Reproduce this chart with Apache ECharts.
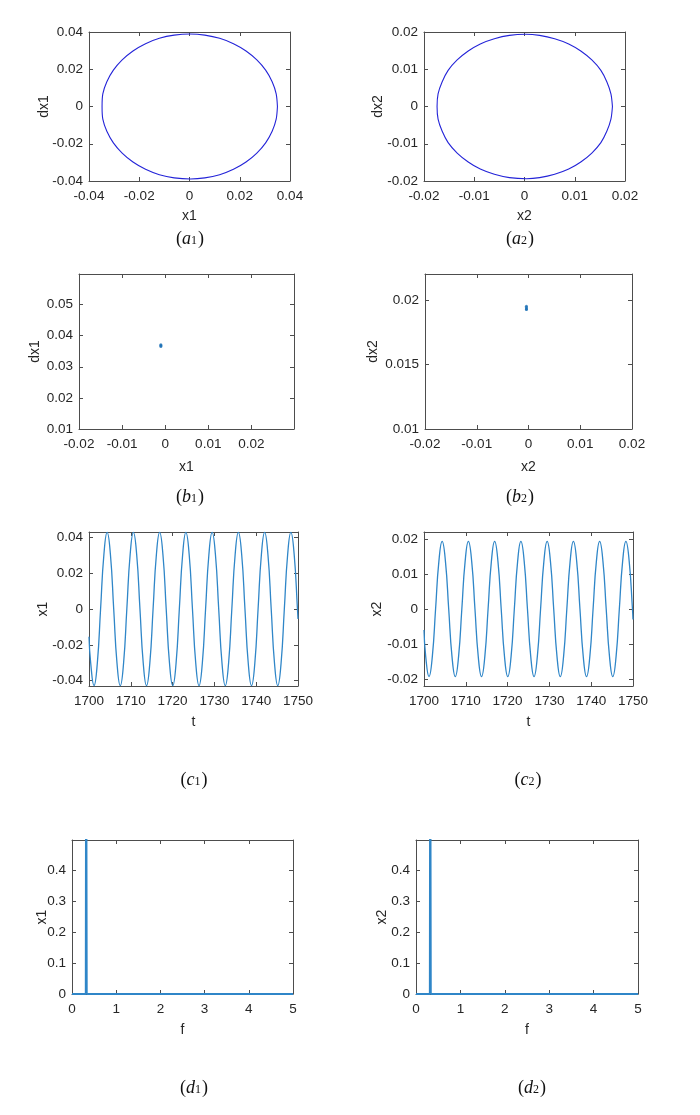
<!DOCTYPE html>
<html>
<head>
<meta charset="utf-8">
<script src="https://cdn.jsdelivr.net/npm/echarts@6/dist/echarts.min.js"></script>
<style>
  html, body { margin: 0; padding: 0; background: #fff; }
  #chart { width: 700px; height: 1115px; }
</style>
</head>
<body>
<div id="chart"></div>
<script>
// (a) phase portraits
const phaseX1 = [0.035, 0.0345, 0.0329, 0.0303, 0.0268, 0.0225, 0.0175, 0.012, 0.0061, 0.0002,
  -0.0061, -0.012, -0.0175, -0.0225, -0.0268, -0.0303, -0.0329, -0.0345, -0.0348,
  -0.0345, -0.0329, -0.0303, -0.0268, -0.0225, -0.0175, -0.012, -0.0061, 0.0004,
  0.0061, 0.012, 0.0175, 0.0225, 0.0268, 0.0303, 0.0329, 0.0345, 0.035]
const phaseDX1 = [0, 0.0068, 0.0133, 0.0195, 0.025, 0.0298, 0.0337, 0.0366, 0.0383, 0.0389,
  0.0383, 0.0366, 0.0337, 0.0298, 0.025, 0.0195, 0.0133, 0.0068, 0,
  -0.0068, -0.0133, -0.0195, -0.025, -0.0298, -0.0337, -0.0366, -0.0383, -0.0389,
  -0.0383, -0.0366, -0.0337, -0.0298, -0.025, -0.0195, -0.0133, -0.0068, 0]
const phaseX2 = [0.0175, 0.0172, 0.0164, 0.0152, 0.0134, 0.0112, 0.0088, 0.006, 0.003, 0.0002,
  -0.003, -0.006, -0.0088, -0.0112, -0.0134, -0.0152, -0.0164, -0.0172, -0.0174,
  -0.0172, -0.0164, -0.0152, -0.0134, -0.0112, -0.0088, -0.006, -0.003, 0.0004,
  0.003, 0.006, 0.0088, 0.0112, 0.0134, 0.0152, 0.0164, 0.0172, 0.0175]
const phaseDX2 = [0, 0.0034, 0.0066, 0.0097, 0.0125, 0.0149, 0.0168, 0.0182, 0.0191, 0.0194,
  0.0191, 0.0182, 0.0168, 0.0149, 0.0125, 0.0097, 0.0066, 0.0034, 0,
  -0.0034, -0.0066, -0.0097, -0.0125, -0.0149, -0.0168, -0.0182, -0.0191, -0.0194,
  -0.0191, -0.0182, -0.0168, -0.0149, -0.0125, -0.0097, -0.0066, -0.0034, 0]

// (b) Poincare points
const poincareX1 = [-0.001, -0.001, -0.001]
const poincareDX1 = [0.0365, 0.0368, 0.0371]
const poincareX2 = [-0.0004, -0.0004, -0.0004, -0.0004]
const poincareDX2 = [0.01925, 0.0193, 0.0194, 0.0195]

// (c) time histories
const timeT = [1700, 1700.41, 1701.2, 1701.99, 1702.77, 1703.56, 1704.34, 1705.13, 1705.91, 1706.7,
  1707.48, 1708.27, 1709.05, 1709.84, 1710.62, 1711.41, 1712.19, 1712.98, 1713.76, 1714.55,
  1715.33, 1716.12, 1716.9, 1717.69, 1718.47, 1719.26, 1720.04, 1720.83, 1721.61, 1722.4,
  1723.18, 1723.97, 1724.75, 1725.54, 1726.32, 1727.11, 1727.89, 1728.68, 1729.46, 1730.25,
  1731.03, 1731.82, 1732.6, 1733.39, 1734.17, 1734.96, 1735.74, 1736.53, 1737.31, 1738.1,
  1738.88, 1739.67, 1740.45, 1741.24, 1742.02, 1742.81, 1743.59, 1744.38, 1745.16, 1745.95,
  1746.73, 1747.52, 1748.3, 1749.09, 1749.87, 1750]
const timeX1 = [-0.0155, -0.0303, -0.0428, -0.0303, 0, 0.0303, 0.0428, 0.0303, 0, -0.0303,
  -0.0428, -0.0303, 0, 0.0303, 0.0428, 0.0303, 0, -0.0303, -0.0428, -0.0303,
  0, 0.0303, 0.0428, 0.0303, 0, -0.0303, -0.0428, -0.0303, 0, 0.0303,
  0.0428, 0.0303, 0, -0.0303, -0.0428, -0.0303, 0, 0.0303, 0.0428, 0.0303,
  0, -0.0303, -0.0428, -0.0303, 0, 0.0303, 0.0428, 0.0303, 0, -0.0303,
  -0.0428, -0.0303, 0, 0.0303, 0.0428, 0.0303, 0, -0.0303, -0.0428, -0.0303,
  0, 0.0303, 0.0428, 0.0303, 0, -0.0055]
const timeX2 = [-0.006, -0.0136, -0.0193, -0.0136, 0, 0.0136, 0.0193, 0.0136, 0, -0.0136,
  -0.0193, -0.0136, 0, 0.0136, 0.0193, 0.0136, 0, -0.0136, -0.0193, -0.0136,
  0, 0.0136, 0.0193, 0.0136, 0, -0.0136, -0.0193, -0.0136, 0, 0.0136,
  0.0193, 0.0136, 0, -0.0136, -0.0193, -0.0136, 0, 0.0136, 0.0193, 0.0136,
  0, -0.0136, -0.0193, -0.0136, 0, 0.0136, 0.0193, 0.0136, 0, -0.0136,
  -0.0193, -0.0136, 0, 0.0136, 0.0193, 0.0136, 0, -0.0136, -0.0193, -0.0136,
  0, 0.0136, 0.0193, 0.0136, 0, -0.003]

// (d) spectra (peak runs off the top of the axes)
const freqF = [0, 0.31, 0.32, 0.335, 5]
const specX1 = [0, 0, 1.2, 0, 0]
const specX2 = [0, 0, 1.2, 0, 0]

// tick labels
const a1Ticks = [-0.04, -0.02, 0, 0.02, 0.04]
const a2Ticks = [-0.02, -0.01, 0, 0.01, 0.02]
const b1TicksX = [-0.02, -0.01, 0, 0.01, 0.02]
const b1TicksY = [0.01, 0.02, 0.03, 0.04, 0.05]
const b2TicksX = [-0.02, -0.01, 0, 0.01, 0.02]
const b2TicksY = [0.01, 0.015, 0.02]
const cTicksT = [1700, 1710, 1720, 1730, 1740, 1750]
const c1TicksY = [-0.04, -0.02, 0, 0.02, 0.04]
const c2TicksY = [-0.02, -0.01, 0, 0.01, 0.02]
const dTicksF = [0, 1, 2, 3, 4, 5]
const dTicksY = [0, 0.1, 0.2, 0.3, 0.4]

const AXIS = '#4d4d4d'
const TEXT = '#262626'
const SANS = '"Liberation Sans", Arial, sans-serif'
const SERIF = '"Liberation Serif", "Times New Roman", serif'
const PHASE_BLUE = '#2424d8'
const MBLUE = '#2f86c8'

const zip = (a, b) => a.map((v, i) => [v, b[i]])

const grids = []
const xAxes = []
const yAxes = []
const series = []

function addPanel(box, xr, yr) {
  const gi = grids.length
  grids.push({ left: box[0], top: box[1], width: box[2], height: box[3], show: false })
  const common = {
    type: 'value',
    gridIndex: gi,
    splitLine: { show: false },
    axisLine: { show: true, onZero: false, lineStyle: { color: AXIS, width: 1 } }
  }
  const label = (vals, margin) => ({
    show: true, customValues: vals, color: TEXT, fontSize: 13.5, fontFamily: SANS, margin: margin,
    formatter: (v) => String(v)
  })
  const tick = (vals) => ({ show: true, inside: true, length: 4, customValues: vals, lineStyle: { color: AXIS } })
  const nameStyle = { color: TEXT, fontSize: 14, fontFamily: SANS }
  xAxes.push(Object.assign({}, common, {
    position: 'bottom', min: xr.min, max: xr.max,
    name: xr.name, nameLocation: 'middle', nameGap: xr.gap, nameMoveOverlap: false,
    nameTextStyle: nameStyle,
    axisLabel: label(xr.ticks, 8), axisTick: tick(xr.ticks)
  }))
  xAxes.push(Object.assign({}, common, {
    position: 'top', min: xr.min, max: xr.max,
    axisLabel: { show: false }, axisTick: tick(xr.ticks)
  }))
  yAxes.push(Object.assign({}, common, {
    position: 'left', min: yr.min, max: yr.max,
    name: yr.name, nameLocation: 'middle', nameGap: yr.gap, nameMoveOverlap: false,
    nameTextStyle: nameStyle,
    axisLabel: label(yr.ticks, 6), axisTick: tick(yr.ticks)
  }))
  yAxes.push(Object.assign({}, common, {
    position: 'right', min: yr.min, max: yr.max,
    axisLabel: { show: false }, axisTick: tick(yr.ticks)
  }))
  return { xAxisIndex: 2 * gi, yAxisIndex: 2 * gi }
}

// (a1) (a2)
let p = addPanel([89, 32, 201, 149],
  { min: -0.04, max: 0.04, ticks: a1Ticks, name: 'x1', gap: 28 },
  { min: -0.04, max: 0.04, ticks: a1Ticks, name: 'dx1', gap: 38 })
series.push(Object.assign({ type: 'line', data: zip(phaseX1, phaseDX1), smooth: 0.3, showSymbol: false,
  lineStyle: { color: PHASE_BLUE, width: 1.1 } }, p))
p = addPanel([424, 32, 201, 149],
  { min: -0.02, max: 0.02, ticks: a2Ticks, name: 'x2', gap: 28 },
  { min: -0.02, max: 0.02, ticks: a2Ticks, name: 'dx2', gap: 39 })
series.push(Object.assign({ type: 'line', data: zip(phaseX2, phaseDX2), smooth: 0.3, showSymbol: false,
  lineStyle: { color: PHASE_BLUE, width: 1.1 } }, p))

// (b1) (b2)
p = addPanel([79, 274, 215, 155],
  { min: -0.02, max: 0.0299, ticks: b1TicksX, name: 'x1', gap: 31 },
  { min: 0.01, max: 0.0598, ticks: b1TicksY, name: 'dx1', gap: 37 })
series.push(Object.assign({ type: 'scatter', data: zip(poincareX1, poincareDX1), symbolSize: 3,
  itemStyle: { color: '#1a6fb5' } }, p))
p = addPanel([425, 274, 207, 155],
  { min: -0.02, max: 0.02, ticks: b2TicksX, name: 'x2', gap: 31 },
  { min: 0.01, max: 0.022, ticks: b2TicksY, name: 'dx2', gap: 45 })
series.push(Object.assign({ type: 'scatter', data: zip(poincareX2, poincareDX2), symbolSize: 3,
  itemStyle: { color: '#1a6fb5' } }, p))

// (c1) (c2)
p = addPanel([89, 532, 209, 154],
  { min: 1700, max: 1750, ticks: cTicksT, name: 't', gap: 29 },
  { min: -0.043, max: 0.043, ticks: c1TicksY, name: 'x1', gap: 39 })
series.push(Object.assign({ type: 'line', data: zip(timeT, timeX1), smooth: 0.5, showSymbol: false,
  lineStyle: { color: MBLUE, width: 1.3 } }, p))
p = addPanel([424, 532, 209, 154],
  { min: 1700, max: 1750, ticks: cTicksT, name: 't', gap: 29 },
  { min: -0.022, max: 0.022, ticks: c2TicksY, name: 'x2', gap: 40 })
series.push(Object.assign({ type: 'line', data: zip(timeT, timeX2), smooth: 0.5, showSymbol: false,
  lineStyle: { color: MBLUE, width: 1.3 } }, p))

// (d1) (d2)
p = addPanel([72, 840, 221, 154],
  { min: 0, max: 5, ticks: dTicksF, name: 'f', gap: 29 },
  { min: 0, max: 0.497, ticks: dTicksY, name: 'x1', gap: 23 })
series.push(Object.assign({ type: 'line', data: zip(freqF, specX1), showSymbol: false,
  lineStyle: { color: MBLUE, width: 1.8 } }, p))
p = addPanel([416, 840, 222, 154],
  { min: 0, max: 5, ticks: dTicksF, name: 'f', gap: 29 },
  { min: 0, max: 0.497, ticks: dTicksY, name: 'x2', gap: 27 })
series.push(Object.assign({ type: 'line', data: zip(freqF, specX2), showSymbol: false,
  lineStyle: { color: MBLUE, width: 1.8 } }, p))

// panel captions
const captionLetters = ['a', 'a', 'b', 'b', 'c', 'c', 'd', 'd']
const captionIndex = ['1', '2', '1', '2', '1', '2', '1', '2']
const captionPos = [[190, 239], [520, 239], [190, 497], [520, 497], [194, 780], [528, 780], [194, 1088], [532, 1088]]
const graphic = captionPos.map((pos, i) => ({
  type: 'text',
  x: pos[0],
  y: pos[1],
  style: {
    text: '{p|(}{i|' + captionLetters[i] + '}{s|' + captionIndex[i] + '}{p|)}',
    align: 'center',
    verticalAlign: 'middle',
    fill: '#111',
    rich: {
      p: { fontSize: 18, fontFamily: SERIF, fill: '#111', verticalAlign: 'bottom' },
      i: { fontSize: 18, fontStyle: 'italic', fontFamily: SERIF, fill: '#111', verticalAlign: 'bottom' },
      s: { fontSize: 12, fontFamily: SERIF, fill: '#111', verticalAlign: 'bottom', padding: [0, 1, 1, 0] }
    }
  }
}))

const chart = echarts.init(document.getElementById('chart'), null, { renderer: 'canvas' })
chart.setOption({
  backgroundColor: '#fff',
  animation: false,
  grid: grids,
  xAxis: xAxes,
  yAxis: yAxes,
  series: series,
  graphic: graphic
})
</script>
</body>
</html>
